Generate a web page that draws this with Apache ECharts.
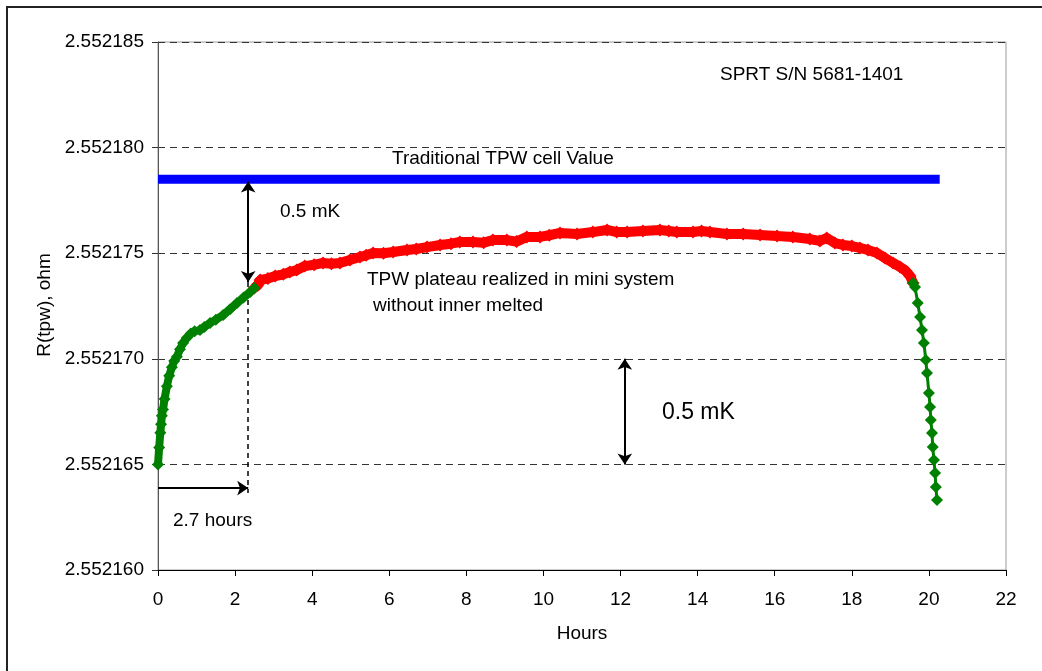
<!DOCTYPE html>
<html><head><meta charset="utf-8">
<script src="https://cdn.jsdelivr.net/npm/echarts@6/dist/echarts.min.js"></script>
<style>html,body{margin:0;padding:0;background:#fff}#c{width:1042px;height:671px}</style>
</head><body><div id="c"></div>
<script>
// Hours and R(tpw) values (ohm)
const startHours = [0,0.03,0.06,0.08,0.10,0.13,0.17,0.23,0.29,0.36,0.42,0.49,0.57,0.65,0.75,0.85,0.95,1.09,1.20,1.35,1.50,1.69,1.87,2.05,2.22,2.39,2.50];
const startValues = [2.5521650,2.5521658,2.5521665,2.5521669,2.5521673,2.5521676,2.5521681,2.5521687,2.5521692,2.5521696,2.5521699,2.5521701,2.55217045,2.55217075,2.5521710,2.5521712,2.5521713,2.55217136,2.5521715,2.5521717,2.55217185,2.55217207,2.55217235,2.55217264,2.5521729,2.55217316,2.55217335];

const plateauHours = [2.50,2.59,2.65,2.85,3.04,3.25,3.42,3.60,3.81,4.05,4.28,4.50,4.72,4.98,5.24,5.40,5.58,5.85,6.10,6.46,6.70,6.98,7.32,7.60,7.83,8.17,8.45,8.69,9.05,9.30,9.57,9.91,10.15,10.43,10.87,11.28,11.65,11.90,12.17,12.58,13.02,13.25,13.46,13.88,14.10,14.32,14.76,15.18,15.62,16.06,16.47,16.91,17.17,17.35,17.56,17.77,18.00,18.21,18.42,18.65,18.86,19.07,19.25,19.40,19.51,19.59];
const plateauValues = [2.55217335,2.55217349,2.55217373,2.5521738,2.55217392,2.5521740,2.55217411,2.5521742,2.55217439,2.55217445,2.55217454,2.5521745,2.55217454,2.55217468,2.55217482,2.5521749,2.55217501,2.5521750,2.55217506,2.55217515,2.5521752,2.55217529,2.55217539,2.55217545,2.55217553,2.55217553,2.5521755,2.55217562,2.55217562,2.55217555,2.55217577,2.55217577,2.55217585,2.55217596,2.55217591,2.5521760,2.5521761,2.5521760,2.5521760,2.55217605,2.5521761,2.55217605,2.5521760,2.5521760,2.55217605,2.5521760,2.55217591,2.55217591,2.55217586,2.55217581,2.55217577,2.55217567,2.55217558,2.55217572,2.55217548,2.55217539,2.55217534,2.55217525,2.55217515,2.55217501,2.55217477,2.55217454,2.55217435,2.55217416,2.55217392,2.55217359];

const endHours = [19.59,19.64,19.71,19.77,19.82,19.87,19.92,19.95,20.00,20.03,20.05,20.08,20.10,20.13,20.16,20.18,20.21];
const endValues = [2.55217359,2.5521734,2.55217264,2.55217198,2.55217136,2.55217075,2.55216994,2.55216933,2.55216838,2.55216772,2.5521671,2.55216649,2.55216582,2.55216521,2.55216459,2.55216393,2.55216331];

const traditionalValue = 2.5521785;
const traditionalHours = [0, 20.28];

const yTicks = [2.552160, 2.552165, 2.552170, 2.552175, 2.552180, 2.552185];
const xTicks = [0,2,4,6,8,10,12,14,16,18,20,22];

const arrowHour = 2.34;       // vertical arrow / dashed line position
const arrowTopValue = 2.5521784;
const arrowBottomValue = 2.55217364;
const dashBottomValue = 2.55216365;
const hourArrowValue = 2.55216388;
const mkArrowHour = 12.11;
const mkArrowTop = 2.552170;
const mkArrowBottom = 2.552165;

const zip = (a, b) => a.map((v, i) => [v, b[i]]);
const FONT = '"Liberation Sans", Arial, sans-serif';

const chart = echarts.init(document.getElementById('c'), null, {renderer: 'canvas'});
chart.setOption({
  animation: false,
  backgroundColor: '#fff',
  grid: {left: 158, right: 36, top: 42, bottom: 101, show: true, borderColor: '#999', borderWidth: 1},
  xAxis: {
    type: 'value', min: xTicks[0], max: xTicks[xTicks.length - 1], interval: 2,
    axisLine: {show: true, onZero: false, lineStyle: {color: '#000', width: 1}},
    axisTick: {show: true, inside: false, length: 6, lineStyle: {color: '#000'}},
    axisLabel: {color: '#000', fontSize: 19, fontFamily: FONT, margin: 20},
    splitLine: {show: false}
  },
  yAxis: {
    type: 'value', min: yTicks[0], max: yTicks[yTicks.length - 1], interval: 0.000005,
    axisLine: {show: true, onZero: false, lineStyle: {color: '#555', width: 1}},
    axisTick: {show: true, inside: false, length: 6, lineStyle: {color: '#333'}},
    axisLabel: {color: '#000', fontSize: 19, fontFamily: FONT, margin: 14,
      formatter: v => v.toFixed(6)},
    splitLine: {show: true, lineStyle: {color: '#333', type: [7, 5], width: 1}}
  },
  series: [
    {
      type: 'line', data: zip(traditionalHours, traditionalHours.map(() => traditionalValue)),
      symbol: 'none', lineStyle: {color: '#0000ff', width: 9}, z: 3,
      markLine: {
        silent: true, animation: false, label: {show: false}, symbolSize: 11,
        data: [
          [{coord: [arrowHour, arrowTopValue], symbol: 'arrow', lineStyle: {color: '#000', width: 2, type: 'solid'}},
           {coord: [arrowHour, arrowBottomValue], symbol: 'arrow'}],
          [{coord: [arrowHour, arrowBottomValue], symbol: 'none', lineStyle: {color: '#000', width: 1.5, type: [5, 4]}},
           {coord: [arrowHour, dashBottomValue], symbol: 'none'}],
          [{coord: [0, hourArrowValue], symbol: 'none', lineStyle: {color: '#000', width: 2, type: 'solid'}},
           {coord: [arrowHour, hourArrowValue], symbol: 'arrow'}],
          [{coord: [mkArrowHour, mkArrowTop], symbol: 'arrow', lineStyle: {color: '#000', width: 2, type: 'solid'}},
           {coord: [mkArrowHour, mkArrowBottom], symbol: 'arrow'}]
        ]
      }
    },
    {
      type: 'line', data: zip(plateauHours, plateauValues), symbol: 'diamond', symbolSize: 13,
      showAllSymbol: true, itemStyle: {color: '#ff0000'}, lineStyle: {color: '#ff0000', width: 10}, z: 4
    },
    {
      type: 'line', data: zip(startHours, startValues), symbol: 'diamond', symbolSize: 12,
      showAllSymbol: true, itemStyle: {color: '#008000'}, lineStyle: {color: '#008000', width: 8}, z: 5
    },
    {
      type: 'line', data: zip(endHours, endValues), symbol: 'diamond', symbolSize: 12,
      showAllSymbol: true, itemStyle: {color: '#008000'}, lineStyle: {color: '#008000', width: 3}, z: 5
    }
  ],
  graphic: [
    {type: 'rect', shape: {x: 7, y: 7, width: 1100, height: 700}, style: {fill: 'none', stroke: '#222', lineWidth: 2}, silent: true, z: -1},
    {type: 'text', x: 720, y: 75, style: {text: 'SPRT S/N 5681-1401', font: '19px ' + FONT, fill: '#000', align: 'left', verticalAlign: 'middle'}},
    {type: 'text', x: 392, y: 159, style: {text: 'Traditional TPW cell Value', font: '19px ' + FONT, fill: '#000', align: 'left', verticalAlign: 'middle'}},
    {type: 'text', x: 280, y: 212, style: {text: '0.5 mK', font: '19px ' + FONT, fill: '#000', align: 'left', verticalAlign: 'middle'}},
    {type: 'text', x: 367, y: 280, style: {text: 'TPW plateau realized in mini system', font: '19px ' + FONT, fill: '#000', align: 'left', verticalAlign: 'middle'}},
    {type: 'text', x: 373, y: 306, style: {text: 'without inner melted', font: '19px ' + FONT, fill: '#000', align: 'left', verticalAlign: 'middle'}},
    {type: 'text', x: 662, y: 413, style: {text: '0.5 mK', font: '23px ' + FONT, fill: '#000', align: 'left', verticalAlign: 'middle'}},
    {type: 'text', x: 173, y: 521, style: {text: '2.7 hours', font: '19px ' + FONT, fill: '#000', align: 'left', verticalAlign: 'middle'}},
    {type: 'text', x: 582, y: 634, style: {text: 'Hours', font: '19px ' + FONT, fill: '#000', align: 'center', verticalAlign: 'middle'}},
    {type: 'text', x: 45, y: 305, rotation: Math.PI / 2, style: {text: 'R(tpw), ohm', font: '19px ' + FONT, fill: '#000', align: 'center', verticalAlign: 'middle'}}
  ]
});
</script></body></html>
